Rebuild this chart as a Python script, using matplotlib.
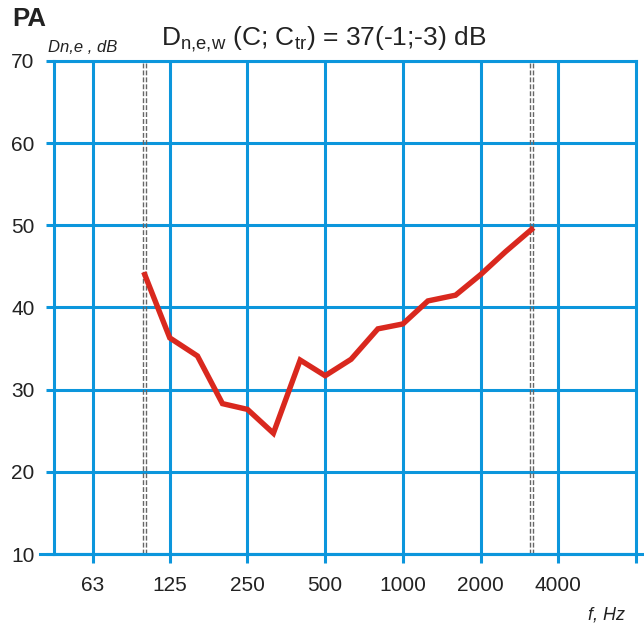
import numpy as np
import matplotlib
matplotlib.use('Agg')
import matplotlib.pyplot as plt

plt.rcParams['font.family'] = ['Liberation Sans', 'DejaVu Sans']
plt.rcParams['mathtext.fontset'] = 'custom'
plt.rcParams['mathtext.rm'] = 'Liberation Sans'
plt.rcParams['mathtext.it'] = 'Liberation Sans:italic'

# one-third octave bands and measured values
freqs = [100, 125, 160, 200, 250, 315, 400, 500, 630, 800, 1000, 1250, 1600, 2000, 2500, 3150]
dn_e = [44.0, 36.3, 34.1, 28.3, 27.6, 24.7, 33.6, 31.7, 33.7, 37.4, 38.0, 40.8, 41.5, 44.0, 46.8, 49.5]

xticks = [63, 125, 250, 500, 1000, 2000, 4000]
xtick_labels = ['63', '125', '250', '500', '1000', '2000', '4000']
yticks = [10, 20, 30, 40, 50, 60, 70]
limit_freqs = [100, 3150]

blue = '#0c96dc'
red = '#d9281e'
txt = '#222222'

fig = plt.figure(figsize=(6.44, 6.25), dpi=100)
ax = fig.add_axes([54/644, 1-554/625, (636-54)/644, (554-61)/625])

ax.set_xscale('log')
ax.set_xlim(44.5, 8000)
ax.set_ylim(10, 70)

# grid
for f in xticks:
    ax.axvline(f, color=blue, lw=2.2, zorder=1)
for v in yticks:
    ax.axhline(v, color=blue, lw=2.2, zorder=1)

# double dashed lines at the limits of the range
for f in limit_freqs:
    for k in (1/1.014, 1.014):
        ax.axvline(f*k, color='#666666', lw=1.0, ls=(0, (3.5, 1.5)), zorder=2)

ax.plot(freqs, dn_e, color=red, lw=3.9, solid_joinstyle='miter', zorder=3)

for s in ax.spines.values():
    s.set_color(blue)
    s.set_linewidth(2.2)

ax.set_xticks(xticks + [8000])
ax.set_xticklabels(xtick_labels + [''])
ax.xaxis.set_minor_locator(matplotlib.ticker.NullLocator())
ax.set_yticks(yticks)
ax.tick_params(axis='x', direction='out', length=6.5, width=2.2, color=blue,
               labelsize=15, labelcolor=txt, pad=9)
ax.tick_params(axis='y', direction='out', length=6, width=2.2, color=blue,
               labelsize=15, labelcolor=txt, pad=8)

# bottom line extends past both sides
ax.plot([-0.024, 1.012], [0, 0], transform=ax.transAxes, color=blue, lw=2.2,
        clip_on=False, zorder=4)

fig.text(12/644, 1-26/625, 'PA', fontsize=18.5, fontweight='bold', color=txt, va='baseline')
fig.text(324/644, 1-45/625, r'D$_\mathrm{n{,}e{,}w}$ (C; C$_\mathrm{tr}$) = 37(-1;-3) dB',
         fontsize=19, color=txt, ha='center', va='baseline')
fig.text(48/644, 1-52/625, 'Dn,e , dB', fontsize=12, fontstyle='italic', color=txt, va='baseline')
fig.text(625/644, 1-619/625, 'f, Hz', fontsize=13, fontstyle='italic', color=txt,
         ha='right', va='baseline')

fig.savefig('out.png', dpi=100)
